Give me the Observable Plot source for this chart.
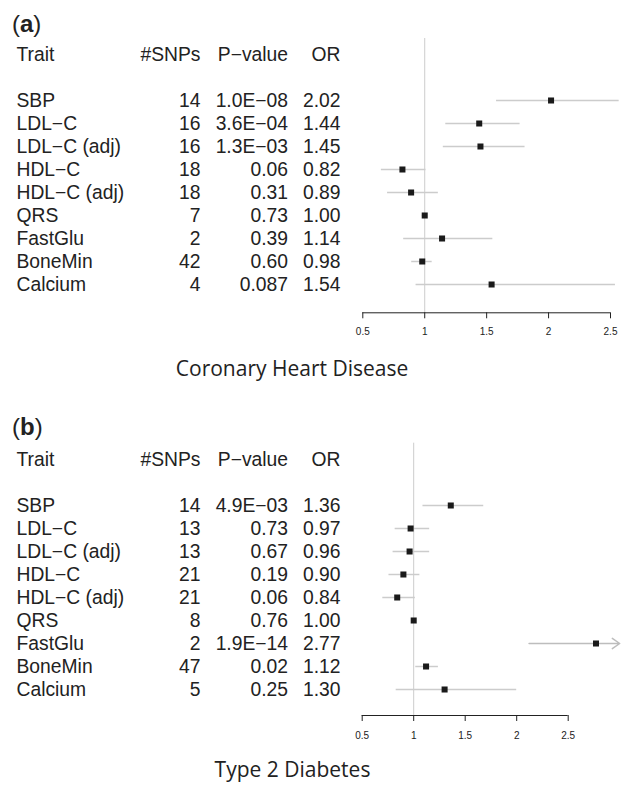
<!DOCTYPE html>
<html>
<head>
<meta charset="utf-8">
<script src="https://cdn.jsdelivr.net/npm/d3@7"></script>
<script src="https://cdn.jsdelivr.net/npm/@observablehq/plot@0.6"></script>
<style>
  html, body { margin: 0; padding: 0; background: #fff; }
  #page { position: relative; width: 625px; height: 785px; overflow: hidden; font-family: "Liberation Sans", Arial, sans-serif; color: #222; }
  .abs { position: absolute; }
  .tag { font-size: 24px; line-height: 24px; left: 12px; }
  .tag b { font-weight: bold; }
  .cap { font-family: "Open Sans", sans-serif; font-size: 21px; line-height: 21px; white-space: nowrap; transform: translateX(-50%); color: #222; }
  svg { display: block; }
</style>
</head>
<body>
<div id="page">
  <div class="abs tag" style="top:11.7px">(<b>a</b>)</div>
  <div id="chartA" class="abs" style="top:36px;left:0"></div>
  <div class="abs cap" style="top:358.4px;left:292px">Coronary Heart Disease</div>
  <div class="abs tag" style="top:414.7px">(<b>b</b>)</div>
  <div id="chartB" class="abs" style="top:440px;left:0"></div>
  <div class="abs cap" style="top:759.4px;left:292.5px">Type 2 Diabetes</div>
</div>
<script>
// ---- data ----
const traits = ["SBP", "LDL\u2212C", "LDL\u2212C (adj)", "HDL\u2212C", "HDL\u2212C (adj)", "QRS", "FastGlu", "BoneMin", "Calcium"];
const header = {trait: "Trait", snps: "#SNPs", p: "P\u2212value", or: "OR"};
const tickValues = [0.5, 1, 1.5, 2, 2.5];
const tickLabels = ["0.5", "1", "1.5", "2", "2.5"];

// (a) Coronary Heart Disease
const snpsA = [14, 16, 16, 18, 18, 7, 2, 42, 4];
const pA = ["1.0E\u221208", "3.6E\u221204", "1.3E\u221203", "0.06", "0.31", "0.73", "0.39", "0.60", "0.087"];
const orA = [2.02, 1.44, 1.45, 0.82, 0.89, 1.00, 1.14, 0.98, 1.54];
const loA = [1.58, 1.17, 1.15, 0.65, 0.70, 0.98, 0.83, 0.895, 0.93];
const hiA = [2.57, 1.77, 1.81, 1.01, 1.11, 1.02, 1.55, 1.06, 2.54];
const truncA = [false, false, false, false, false, false, false, false, false];

// (b) Type 2 Diabetes
const snpsB = [14, 13, 13, 21, 21, 8, 2, 47, 5];
const pB = ["4.9E\u221203", "0.73", "0.67", "0.19", "0.06", "0.76", "1.9E\u221214", "0.02", "0.25"];
const orB = [1.36, 0.97, 0.96, 0.90, 0.84, 1.00, 2.77, 1.12, 1.30];
const loB = [1.09, 0.82, 0.80, 0.76, 0.70, 0.99, 2.12, 1.02, 0.83];
const hiB = [1.68, 1.155, 1.155, 1.06, 1.016, 1.01, 3.0, 1.24, 2.0];
const truncB = [false, false, false, false, false, false, true, false, false];

function rowsOf(snps, p, or, lo, hi, trunc) {
  return traits.map((t, i) => ({trait: t, snps: String(snps[i]), p: p[i], or: or[i], orText: or[i].toFixed(2), lo: lo[i], hi: hi[i], trunc: trunc[i]}));
}

function panel(rows, cfg) {
  const table = [header, ...rows.map(r => ({trait: r.trait, snps: r.snps, p: r.p, or: r.orText}))];
  const yDomain = ["Trait", " ", ...traits];
  const textOpts = {y: "trait", frameAnchor: "left", fontSize: 19.3, fill: "#222", fontFamily: "Liberation Sans, Arial, sans-serif"};
  const L = cfg.marginLeft;
  const frameH = cfg.height - cfg.marginTop - cfg.marginBottom;
  return Plot.plot({
    width: 625,
    height: cfg.height,
    marginLeft: L,
    marginRight: cfg.marginRight,
    marginTop: cfg.marginTop,
    marginBottom: cfg.marginBottom,
    style: {fontFamily: "Liberation Sans, Arial, sans-serif"},
    x: {domain: [0.5, 2.5]},
    y: {type: "point", domain: yDomain, range: cfg.yRange, padding: 0, axis: null},
    marks: [
      Plot.ruleX([1], {stroke: "#cccccc", strokeWidth: 1}),
      // R-style axis line from the first to the last tick, on the frame's bottom edge
      Plot.ruleY([0], {y: null, x1: tickValues[0], x2: tickValues[tickValues.length - 1], dy: frameH / 2, stroke: "#222", strokeWidth: 1}),
      Plot.axisX({ticks: tickValues, tickFormat: d => tickLabels[tickValues.indexOf(d)], tickSize: 6, tickPadding: cfg.tickPadding, fontSize: 10, color: "#222", label: null}),
      Plot.ruleY(rows.filter(r => !r.trunc), {y: "trait", x1: "lo", x2: "hi", stroke: "#cccccc", strokeWidth: 1.5}),
      Plot.arrow(rows.filter(r => r.trunc), {y1: "trait", y2: "trait", x1: "lo", x2: "hi", stroke: "#bdbdbd", strokeWidth: 1.5, headLength: 9, headAngle: 70}),
      Plot.dot(rows, {x: "or", y: "trait", symbol: "square", r: 3.4, fill: "#1a1a1a", stroke: null}),
      Plot.text(table, {...textOpts, text: "trait", textAnchor: "start", dx: 16 - L}),
      Plot.text(table, {...textOpts, text: "snps", textAnchor: "end", dx: 200 - L}),
      Plot.text(table, {...textOpts, text: "p", textAnchor: "end", dx: 287.5 - L}),
      Plot.text(table, {...textOpts, text: "or", textAnchor: "end", dx: 340 - L})
    ]
  });
}

document.getElementById("chartA").append(panel(rowsOf(snpsA, pA, orA, loA, hiA, truncA), {
  height: 310, marginLeft: 362.3, marginRight: 15, marginTop: 2, marginBottom: 33.7,
  yRange: [62.3 - 2 * 23.55, 250.7], tickPadding: 9
}));
document.getElementById("chartB").append(panel(rowsOf(snpsB, pB, orB, loB, hiB, truncB), {
  height: 310, marginLeft: 361.7, marginRight: 57.3, marginTop: 2.7, marginBottom: 35,
  yRange: [62.7 - 2 * 23.62, 251.7], tickPadding: 10
}));
</script>
</body>
</html>
